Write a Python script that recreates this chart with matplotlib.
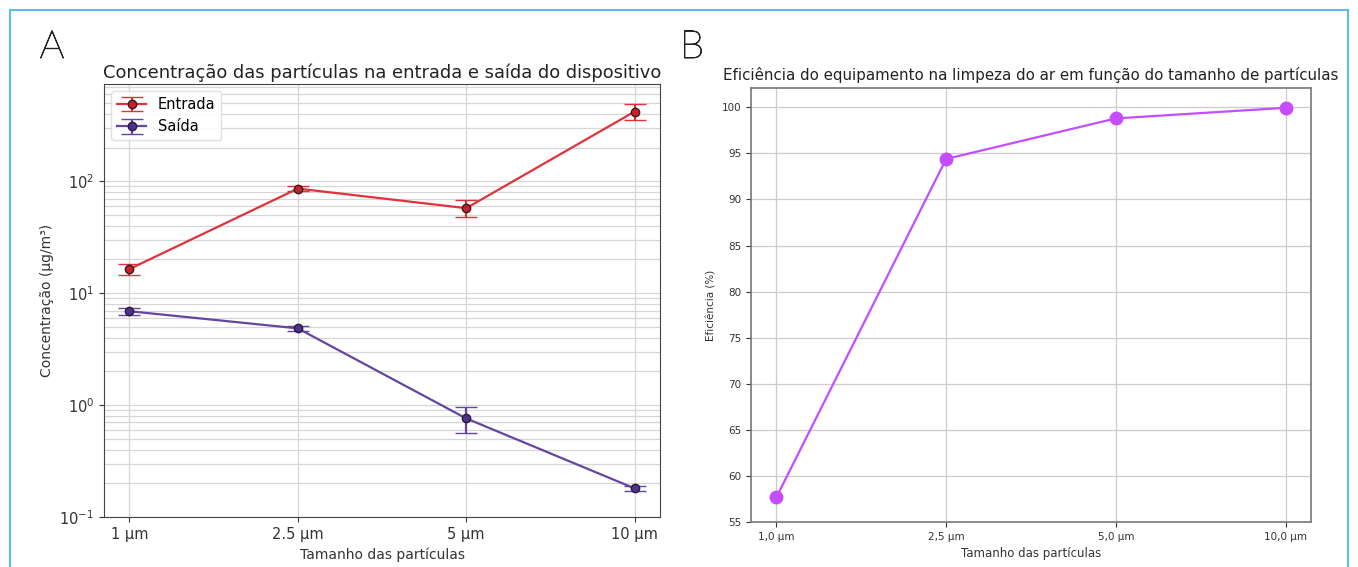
import matplotlib
matplotlib.use("Agg")
import matplotlib.pyplot as plt
import matplotlib.patheffects as pe
from matplotlib.patches import Rectangle
from matplotlib.ticker import MultipleLocator

# dados - painel A
tamanhos_a = ["1 µm", "2.5 µm", "5 µm", "10 µm"]
entrada = [16.4, 86.0, 57.5, 420.0]
entrada_err = [1.8, 4.0, 10.0, 70.0]
saida = [6.9, 4.85, 0.76, 0.18]
saida_err = [0.5, 0.25, 0.2, 0.01]

# dados - painel B
tamanhos_b = ["1,0 µm", "2,5 µm", "5,0 µm", "10,0 µm"]
eficiencia = [57.7, 94.4, 98.8, 99.95]

fig = plt.figure(figsize=(13.58, 5.67), dpi=100)

# moldura azul
fig.add_artist(Rectangle((10 / 1358, -0.1), 1338 / 1358, 1 - 10 / 567 + 0.1,
                         transform=fig.transFigure, fill=False,
                         edgecolor="#5bbde3", linewidth=1.5))

# ---------- painel A ----------
ax1 = fig.add_axes([104 / 1358, 1 - 517 / 567, 556 / 1358, 433 / 567])
x = list(range(len(tamanhos_a)))
ax1.errorbar(x, entrada, yerr=entrada_err, color="#e0323c", marker="o",
             markersize=6, markerfacecolor="#c9202c", markeredgecolor="#3a1a1a",
             capsize=8, linewidth=1.6, label="Entrada")
ax1.errorbar(x, saida, yerr=saida_err, color="#65459f", marker="o",
             markersize=6, markerfacecolor="#4f3290", markeredgecolor="#2a1a3a",
             capsize=8, linewidth=1.6, label="Saída")
ax1.set_yscale("log")
ax1.set_ylim(0.1, 740)
ax1.set_xticks(x)
ax1.set_xticklabels(tamanhos_a)
ax1.grid(True, which="major", color="#d6d6d6", linewidth=0.9)
ax1.grid(True, which="minor", axis="y", color="#d6d6d6", linewidth=0.9)
ax1.tick_params(axis="both", which="major", labelsize=10.5, colors="#333333")
ax1.tick_params(axis="y", which="minor", length=0)
for s in ax1.spines.values():
    s.set_color("#444444")
ax1.set_title("Concentração das partículas na entrada e saída do dispositivo",
              fontsize=12.9, color="#222222", pad=4)
ax1.set_xlabel("Tamanho das partículas", fontsize=10, color="#333333")
ax1.set_ylabel("Concentração (µg/m³)", fontsize=10, color="#333333")
ax1.legend(loc="upper left", fontsize=10.5, framealpha=0.9, edgecolor="#dddddd")

# ---------- painel B ----------
ax2 = fig.add_axes([751 / 1358, 1 - 522 / 567, 560 / 1358, 434 / 567])
ax2.plot(range(len(tamanhos_b)), eficiencia, color="#c44dff", marker="o",
         markersize=9, linewidth=1.6)
ax2.set_ylim(55, 102.1)
ax2.yaxis.set_major_locator(MultipleLocator(5))
ax2.set_xticks(range(len(tamanhos_b)))
ax2.set_xticklabels(tamanhos_b)
ax2.grid(True, color="#cccccc", linewidth=0.9)
ax2.tick_params(labelsize=7.5, colors="#333333")
for s in ax2.spines.values():
    s.set_color("#777777")
    s.set_linewidth(1.2)
ax2.set_title("Eficiência do equipamento na limpeza do ar em função do tamanho de partículas",
              fontsize=10.8, color="#222222", pad=6)
ax2.set_xlabel("Tamanho das partículas", fontsize=8.5, color="#333333")
ax2.set_ylabel("Eficiência (%)", fontsize=7.5, color="#333333")

# letras dos painéis (fonte fina, engrossada um pouco)
for letra, xp in [("A", 52), ("B", 692)]:
    fig.text(xp / 1358, 1 - 47 / 567, letra, fontsize=28, family="Lato",
             fontweight="light", ha="center", va="center", color="#222222",
             path_effects=[pe.withStroke(linewidth=0.7, foreground="#222222")])

fig.savefig("out.png", dpi=100)
